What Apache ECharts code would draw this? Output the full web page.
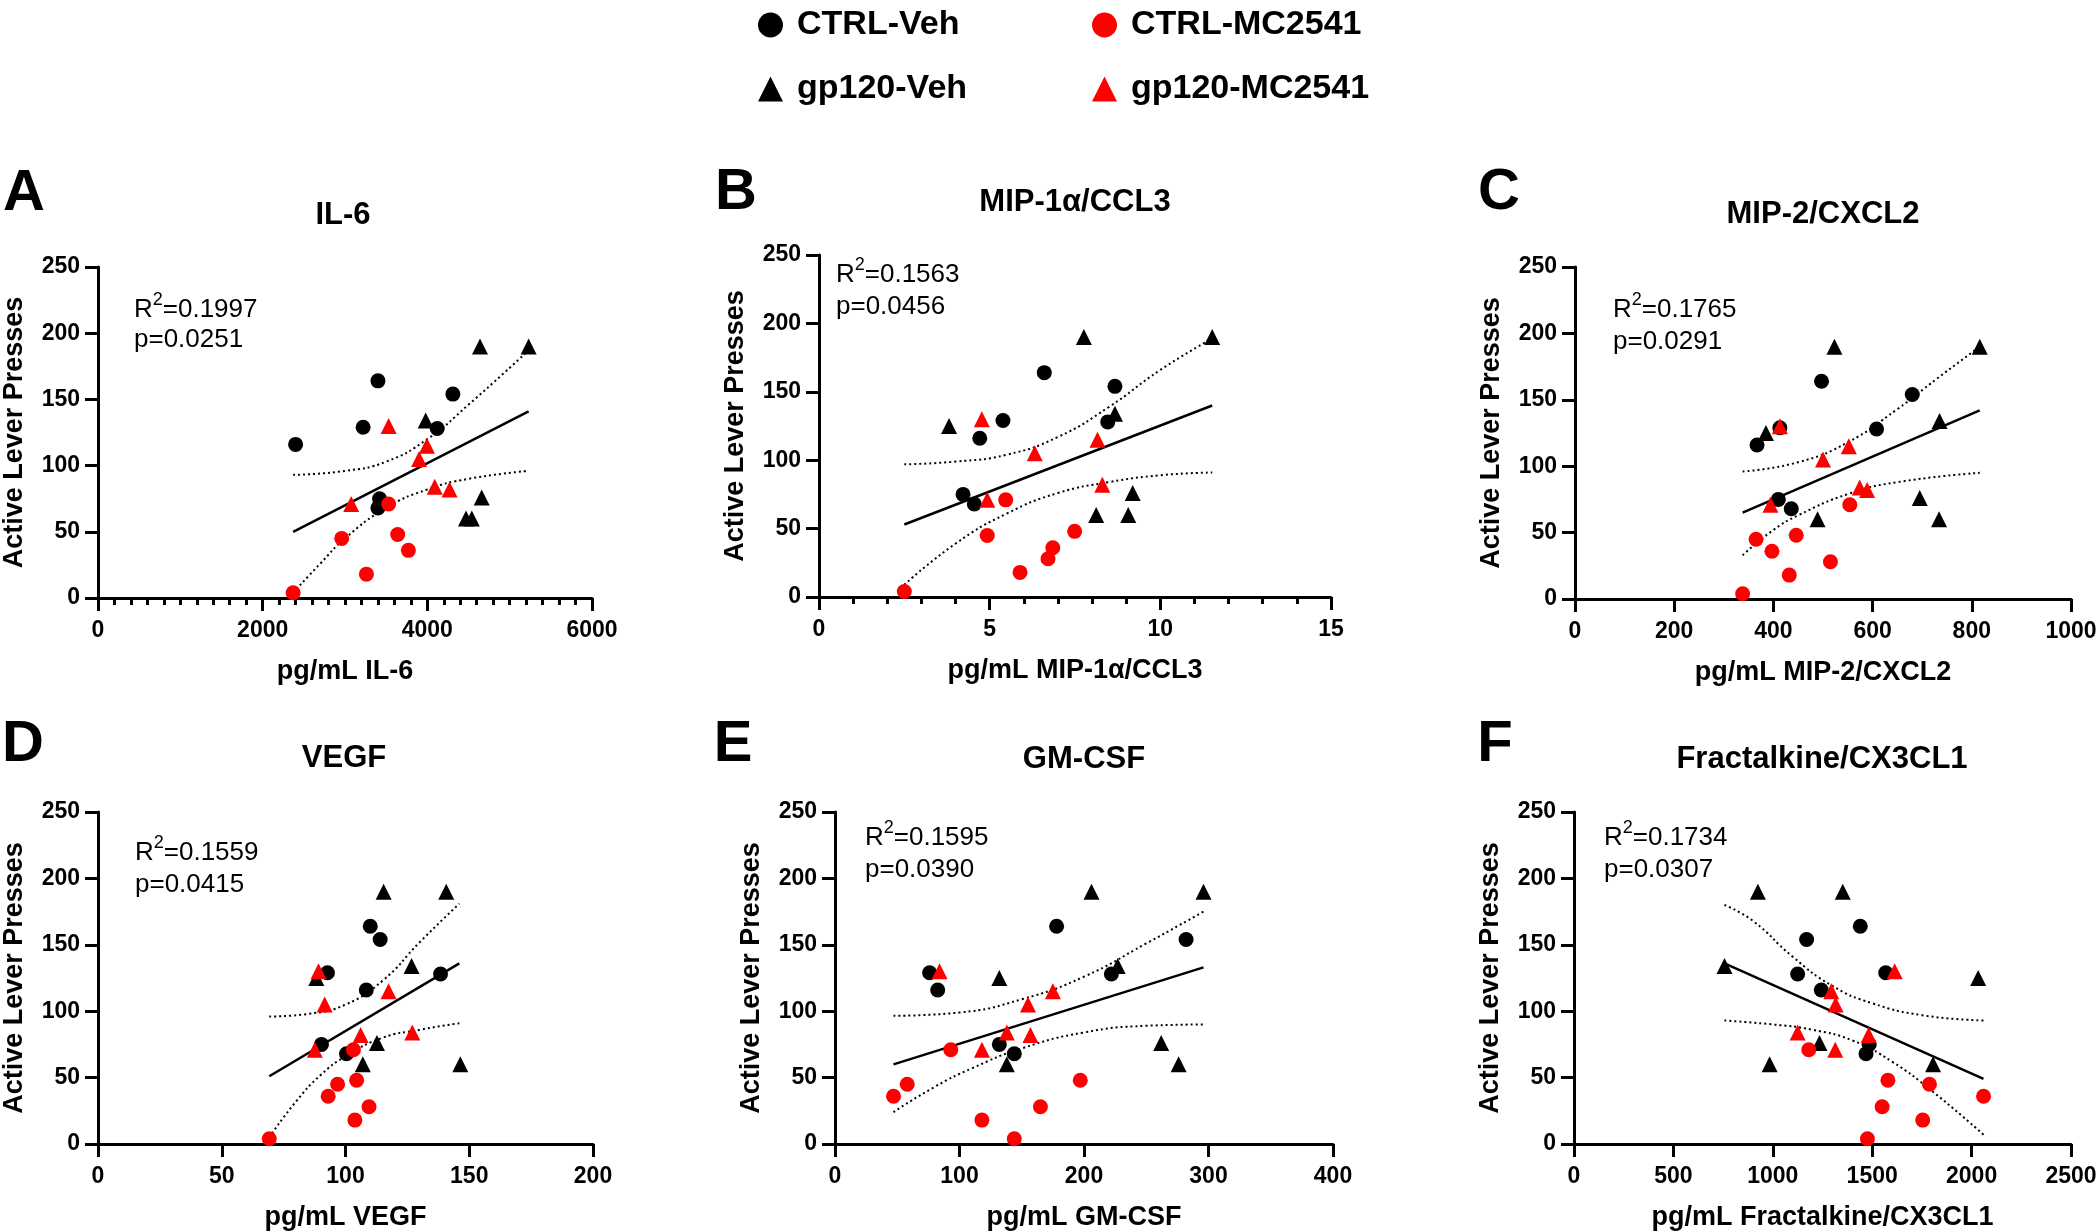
<!DOCTYPE html>
<html>
<head>
<meta charset="utf-8">
<script src="https://cdn.jsdelivr.net/npm/echarts@6/dist/echarts.min.js"></script>
<style>
html,body{margin:0;padding:0;background:#fff;}
#chart{width:2100px;height:1232px;}
</style>
</head>
<body>
<div id="chart"></div>
<script>
// ---------- labels / ticks ----------
const groupNames = ['CTRL-Veh', 'CTRL-MC2541', 'gp120-Veh', 'gp120-MC2541'];
const panelLetters = ['A', 'B', 'C', 'D', 'E', 'F'];
const panelTitles = ['IL-6', 'MIP-1α/CCL3', 'MIP-2/CXCL2', 'VEGF', 'GM-CSF', 'Fractalkine/CX3CL1'];
const xAxisTitles = ['pg/mL IL-6', 'pg/mL MIP-1α/CCL3', 'pg/mL MIP-2/CXCL2', 'pg/mL VEGF', 'pg/mL GM-CSF', 'pg/mL Fractalkine/CX3CL1'];
const yAxisTitle = 'Active Lever Presses';
const yTicks = [0, 50, 100, 150, 200, 250];
const xTicks = [
  [0, 2000, 4000, 6000],
  [0, 5, 10, 15],
  [0, 200, 400, 600, 800, 1000],
  [0, 50, 100, 150, 200],
  [0, 100, 200, 300, 400],
  [0, 500, 1000, 1500, 2000, 2500]
];
const rSquared = ['0.1997', '0.1563', '0.1765', '0.1559', '0.1595', '0.1734'];
const pValues = ['0.0251', '0.0456', '0.0291', '0.0415', '0.0390', '0.0307'];

// ---------- A: IL-6 ----------
const il6CtrlVeh = [[2400,116],[3400,164],[4310,154],[3220,129],[4120,128],[3420,75],[3400,68]];
const il6Gp120Veh = [[4640,190],[5230,190],[3980,134],[4660,76],[4470,60],[4540,60]];
const il6CtrlMC = [[2370,4],[2960,45],[3260,18],[3530,71],[3640,48],[3770,36]];
const il6Gp120MC = [[3530,130],[3995,115],[3900,105],[4090,84],[4270,82],[3075,71]];
const il6Fit = [[2370,50],[5230,141]];
const il6Upper = [[2370,93],[3000,96],[3500,103],[4000,120],[4500,146],[5230,187]];
const il6Lower = [[2370,4],[2700,26],[3000,45],[3500,68],[4000,82],[4500,90],[5230,96]];

// ---------- B: MIP-1a/CCL3 ----------
const ccl3CtrlVeh = [[6.6,164],[8.67,154],[5.39,129],[8.46,128],[4.71,116],[4.22,75],[4.55,68]];
const ccl3Gp120Veh = [[7.76,190],[11.52,190],[3.81,125],[8.67,134],[9.19,76],[8.12,60],[9.06,60]];
const ccl3CtrlMC = [[2.5,4],[4.93,45],[5.47,71],[5.89,18],[6.71,28],[6.85,36],[7.49,48]];
const ccl3Gp120MC = [[4.77,130],[8.16,115],[6.32,105],[8.3,82],[4.93,71]];
const ccl3Fit = [[2.5,53],[11.52,140]];
const ccl3Upper = [[2.5,97],[4,99],[5.5,104],[7,117],[8.5,139],[10,166],[11.52,189]];
const ccl3Lower = [[2.5,9],[4,39],[5.5,61],[7,76],[8.5,84],[10,89],[11.52,91]];

// ---------- C: MIP-2/CXCL2 ----------
const cxcl2CtrlVeh = [[497,164],[680,154],[608,128],[413,129],[367,116],[410,75],[436,68]];
const cxcl2Gp120Veh = [[523,190],[816,190],[735,134],[385,125],[695,76],[734,60],[489,60]];
const cxcl2CtrlMC = [[338,4],[365,45],[397,36],[432,18],[446,48],[515,28],[554,71]];
const cxcl2Gp120MC = [[413,130],[552,115],[500,105],[574,84],[589,82],[394,71]];
const cxcl2Fit = [[338,65],[816,142]];
const cxcl2Upper = [[338,96],[450,103],[550,118],[650,143],[730,166],[816,190]];
const cxcl2Lower = [[338,33],[400,52],[450,63],[550,79],[650,88],[816,95]];

// ---------- D: VEGF ----------
const vegfCtrlVeh = [[110,164],[114,154],[92.7,129],[138.4,128],[108.4,116],[90.3,75],[100.4,68]];
const vegfGp120Veh = [[115.4,190],[140.7,190],[126.7,134],[88.2,125],[112.7,76],[107,60],[146.4,60]];
const vegfCtrlMC = [[69.2,4],[103.2,71],[96.8,45],[93,36],[104.5,48],[109.5,28],[103.8,18]];
const vegfGp120MC = [[89.1,130],[117.4,115],[91.6,105],[106.1,82],[127,84],[87.6,71]];
const vegfFit = [[69.2,51],[146,136]];
const vegfUpper = [[69.2,96],[85,98],[100,105],[115,123],[130,152],[146,181]];
const vegfLower = [[69.2,5],[80,32],[90,52],[100,66],[115,80],[130,86],[146,91]];

// ---------- E: GM-CSF ----------
const gmcsfCtrlVeh = [[178,164],[282,154],[76,129],[222,128],[82.5,116],[132,75],[144,68]];
const gmcsfGp120Veh = [[206,190],[296,190],[227,134],[132,125],[262,76],[276,60],[138,60]];
const gmcsfCtrlMC = [[47,36],[58,45],[93,71],[118,18],[144,4],[165,28],[197,48]];
const gmcsfGp120MC = [[84,130],[175,115],[155,105],[138,84],[157,82],[118,71]];
const gmcsfFit = [[47,60],[296,133]];
const gmcsfUpper = [[47,96.5],[100,99],[150,109],[200,126],[250,151],[296,175]];
const gmcsfLower = [[47,24],[80,43],[110,57],[150,72],[200,84],[250,89],[296,90]];

// ---------- F: Fractalkine/CX3CL1 ----------
const cx3cl1CtrlVeh = [[1440,164],[1170,154],[1125,128],[1568,129],[1244,116],[1485,75],[1469,68]];
const cx3cl1Gp120Veh = [[925,190],[1352,190],[757,134],[2033,125],[1235,76],[984,60],[1806,60]];
const cx3cl1CtrlMC = [[1181,71],[1579,48],[1788,45],[2060,36],[1550,28],[1754,18],[1476,4]];
const cx3cl1Gp120MC = [[1613,130],[1294,115],[1316,105],[1125,84],[1482,82],[1314,71]];
const cx3cl1Fit = [[757,136],[2060,49]];
const cx3cl1Upper = [[757,180],[900,168],[1100,141],[1300,119],[1500,106],[1750,97],[2060,93]];
const cx3cl1Lower = [[757,93],[1000,90],[1200,86],[1400,78],[1600,62],[1800,40],[2060,7]];

const panelData = [
  [il6CtrlVeh, il6Gp120Veh, il6CtrlMC, il6Gp120MC, il6Fit, il6Upper, il6Lower],
  [ccl3CtrlVeh, ccl3Gp120Veh, ccl3CtrlMC, ccl3Gp120MC, ccl3Fit, ccl3Upper, ccl3Lower],
  [cxcl2CtrlVeh, cxcl2Gp120Veh, cxcl2CtrlMC, cxcl2Gp120MC, cxcl2Fit, cxcl2Upper, cxcl2Lower],
  [vegfCtrlVeh, vegfGp120Veh, vegfCtrlMC, vegfGp120MC, vegfFit, vegfUpper, vegfLower],
  [gmcsfCtrlVeh, gmcsfGp120Veh, gmcsfCtrlMC, gmcsfGp120MC, gmcsfFit, gmcsfUpper, gmcsfLower],
  [cx3cl1CtrlVeh, cx3cl1Gp120Veh, cx3cl1CtrlMC, cx3cl1Gp120MC, cx3cl1Fit, cx3cl1Upper, cx3cl1Lower]
];

// ---------- layout (not data) ----------
const FONT = 'Liberation Sans, Arial, Helvetica, sans-serif';
const grids = [
  {left: 95, top: 267, width: 497, height: 331},
  {left: 819, top: 255, width: 512, height: 342},
  {left: 1575, top: 267, width: 496, height: 332},
  {left: 95, top: 812, width: 498, height: 332},
  {left: 835, top: 812, width: 498, height: 332},
  {left: 1574, top: 812, width: 497, height: 332}
];
const minorSplits = [10, 5, 0, 0, 0, 0];
const letterPos = [[24,194],[736,193],[1499,193],[23,745],[733,745],[1495,745]];
const titlePos = [[343,215],[1075,202],[1823,214],[344,758],[1084,759],[1822,759]];
const statPos = [[134,310,340],[836,275,307],[1613,310,342],[135,853,885],[865,838,870],[1604,838,870]];

const BLACK = '#000000', RED = '#ff0000';
const AX = {color: BLACK, width: 3};

const xAxes = [], yAxes = [], series = [], graphics = [];
for (let i = 0; i < 6; i++) {
  const t = xTicks[i];
  xAxes.push({
    gridIndex: i, type: 'value', min: t[0], max: t[t.length - 1], interval: t[1] - t[0],
    name: xAxisTitles[i], nameLocation: 'middle', nameGap: 60,
    nameTextStyle: {fontFamily: FONT, fontWeight: 'bold', fontSize: 27, color: BLACK},
    axisLine: {show: true, onZero: false, lineStyle: AX},
    axisTick: {show: true, length: 13, lineStyle: AX},
    minorTick: {show: minorSplits[i] > 0, splitNumber: minorSplits[i] || 5, length: 7, lineStyle: AX},
    axisLabel: {fontFamily: FONT, fontWeight: 'bold', fontSize: 23, color: BLACK, margin: 21,
      formatter: v => String(v)},
    splitLine: {show: false}
  });
  yAxes.push({
    gridIndex: i, type: 'value', min: yTicks[0], max: yTicks[yTicks.length - 1], interval: yTicks[1] - yTicks[0],
    name: yAxisTitle, nameLocation: 'middle', nameGap: 70,
    nameTextStyle: {fontFamily: FONT, fontWeight: 'bold', fontSize: 27, color: BLACK},
    axisLine: {show: true, onZero: false, lineStyle: AX},
    axisTick: {show: true, length: 13, lineStyle: AX},
    axisLabel: {fontFamily: FONT, fontWeight: 'bold', fontSize: 23, color: BLACK, margin: 18,
      formatter: v => String(v)},
    splitLine: {show: false}
  });
  const d = panelData[i];
  const base = {xAxisIndex: i, yAxisIndex: i, silent: true};
  series.push(Object.assign({type: 'line', name: 'fit' + i, data: d[4], symbol: 'none', z: 2,
    lineStyle: {color: BLACK, width: 2.5}}, base));
  series.push(Object.assign({type: 'line', name: 'upper' + i, data: d[5], symbol: 'none', z: 2,
    smooth: 0.5, lineStyle: {color: BLACK, width: 2, type: [2, 3]}}, base));
  series.push(Object.assign({type: 'line', name: 'lower' + i, data: d[6], symbol: 'none', z: 2,
    smooth: 0.5, lineStyle: {color: BLACK, width: 2, type: [2, 3]}}, base));
  series.push(Object.assign({type: 'scatter', name: 'CTRL-Veh', data: d[0], symbol: 'circle', symbolSize: 15,
    itemStyle: {color: BLACK, opacity: 1}, z: 3}, base));
  series.push(Object.assign({type: 'scatter', name: 'gp120-Veh', data: d[1], symbol: 'triangle', symbolSize: 16,
    itemStyle: {color: BLACK, opacity: 1}, z: 3}, base));
  series.push(Object.assign({type: 'scatter', name: 'CTRL-MC2541', data: d[2], symbol: 'circle', symbolSize: 15,
    itemStyle: {color: RED, opacity: 1}, z: 3}, base));
  series.push(Object.assign({type: 'scatter', name: 'gp120-MC2541', data: d[3], symbol: 'triangle', symbolSize: 16,
    itemStyle: {color: RED, opacity: 1}, z: 3}, base));

  graphics.push({type: 'text', x: letterPos[i][0], y: letterPos[i][1],
    style: {text: panelLetters[i], fontFamily: FONT, fontWeight: 'bold', fontSize: 58, fill: BLACK,
      align: 'center', verticalAlign: 'middle', textAlign: 'center', textVerticalAlign: 'middle'}});
  graphics.push({type: 'text', x: titlePos[i][0], y: titlePos[i][1],
    style: {text: panelTitles[i], fontFamily: FONT, fontWeight: 'bold', fontSize: 31, fill: BLACK,
      align: 'center', verticalAlign: 'middle', textAlign: 'center', textVerticalAlign: 'middle'}});
  graphics.push({type: 'text', x: statPos[i][0], y: statPos[i][1],
    style: {text: '{a|R}{s|2}{a|=' + rSquared[i] + '}', fill: BLACK,
      align: 'left', verticalAlign: 'middle', textAlign: 'left', textVerticalAlign: 'middle',
      rich: {
        a: {fontFamily: FONT, fontSize: 26, lineHeight: 38, fill: BLACK, color: BLACK},
        s: {fontFamily: FONT, fontSize: 18, lineHeight: 19, verticalAlign: 'top', fill: BLACK, color: BLACK}
      }}});
  graphics.push({type: 'text', x: statPos[i][0], y: statPos[i][2],
    style: {text: 'p=' + pValues[i], fontFamily: FONT, fontSize: 26, fill: BLACK,
      align: 'left', verticalAlign: 'middle', textAlign: 'left', textVerticalAlign: 'middle'}});
}

function legendAt(name, icon, left, top) {
  return {
    left: left, top: top, padding: 0, itemWidth: 25, itemHeight: 25, itemGap: 0,
    selectedMode: false,
    data: [{name: name, icon: icon, itemStyle: {opacity: 1}}],
    textStyle: {fontFamily: FONT, fontWeight: 'bold', fontSize: 34, color: BLACK, padding: [0, 0, 0, 9]}
  };
}

const option = {
  animation: false,
  backgroundColor: '#ffffff',
  grid: grids.map(g => Object.assign({containLabel: false}, g)),
  xAxis: xAxes,
  yAxis: yAxes,
  legend: [
    legendAt('CTRL-Veh', 'circle', 758, 8),
    legendAt('CTRL-MC2541', 'circle', 1092, 8),
    legendAt('gp120-Veh', 'triangle', 758, 72),
    legendAt('gp120-MC2541', 'triangle', 1092, 72)
  ],
  graphic: graphics,
  series: series
};

const chart = echarts.init(document.getElementById('chart'), null, {renderer: 'canvas'});
chart.setOption(option);
</script>
</body>
</html>
